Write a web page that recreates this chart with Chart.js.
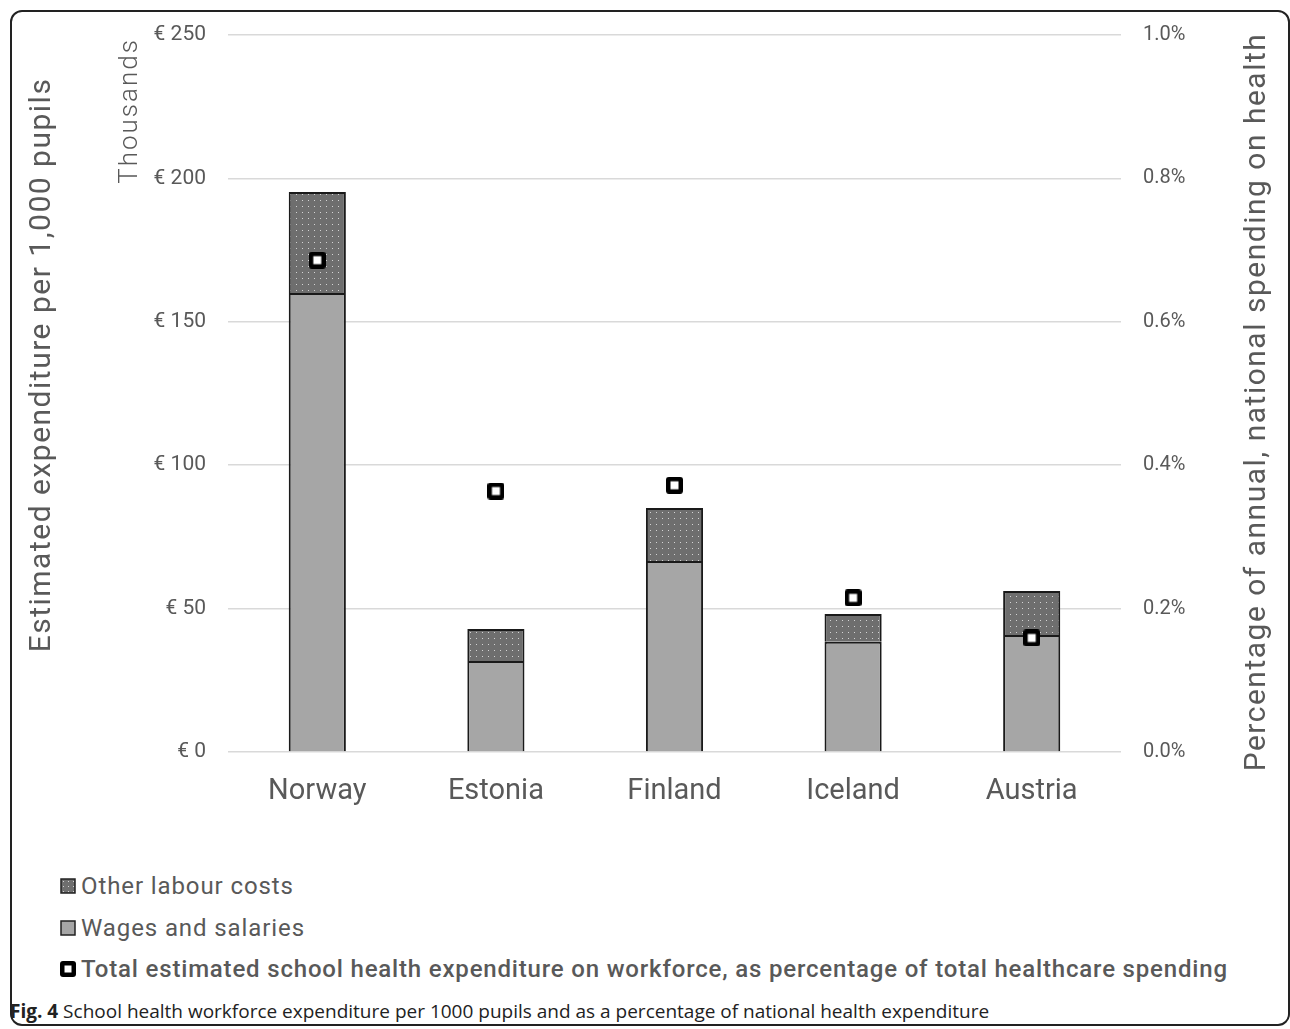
<!DOCTYPE html>
<html lang="en">
<head>
    <meta charset="UTF-8">
    <title>School health workforce expenditure</title>
    <style>
        body {
            margin: 0;
            background: #fff;
            width: 1290px;
            height: 1029px;
            overflow: hidden;
            position: relative;
            font-family: Roboto, "Noto Sans", sans-serif;
        }

        #frame {
            position: absolute;
            left: 10px;
            top: 10px;
            width: 1280px;
            height: 1016px;
            box-sizing: border-box;
            border: 2px solid #222;
            border-radius: 12px;
        }

        #chart-container {
            position: absolute;
            left: 0;
            top: 0;
            width: 1290px;
            height: 840px;
        }

        .legend-item {
            position: absolute;
            left: 60px;
            font-size: 24px;
            letter-spacing: 0.9px;
            color: #595959;
            display: flex;
            align-items: center;
            white-space: nowrap;
        }

        .legend-item canvas {
            margin-right: 5px;
        }

        #caption {
            position: absolute;
            left: 10px;
            top: 998px;
            font-family: "Open Sans", sans-serif;
            font-size: 19px;
            color: #222;
            white-space: nowrap;
        }
    </style>
    <script src="https://cdn.jsdelivr.net/npm/chart.js"></script>
</head>
<body>
    <div id="frame"></div>
    <div id="chart-container">
        <canvas id="expChart"></canvas>
    </div>
    <div class="legend-item" id="leg-other" style="top: 872px;"></div>
    <div class="legend-item" id="leg-wages" style="top: 914px;"></div>
    <div class="legend-item" id="leg-total" style="top: 955px; font-weight: 500; letter-spacing: 0.82px;"></div>
    <div id="caption"><b>Fig. 4</b> School health workforce expenditure per 1000 pupils and as a percentage of national health expenditure</div>
    <script>
        // values, € thousands per 1,000 pupils
        const countries = ['Norway', 'Estonia', 'Finland', 'Iceland', 'Austria'];
        const wages = [160, 31.7, 66.6, 38.4, 40.8];
        const otherCosts = [35.3, 11.2, 18.5, 9.7, 15.3];
        // share of national health spending, in %
        const sharePct = [0.686, 0.364, 0.372, 0.215, 0.159];

        const leftTicks = [0, 50, 100, 150, 200, 250];
        const rightTicks = [0, 0.2, 0.4, 0.6, 0.8, 1.0];

        const legendLabels = [
            'Other labour costs',
            'Wages and salaries',
            'Total estimated school health expenditure on workforce, as percentage of total healthcare spending'
        ];

        const textGrey = '#595959';

        function dotPattern() {
            const c = document.createElement('canvas');
            c.width = 6;
            c.height = 6;
            const g = c.getContext('2d');
            g.fillStyle = '#6e6e6e';
            g.fillRect(0, 0, 6, 6);
            g.fillStyle = '#d4d4d4';
            g.fillRect(2, 2, 1, 1);
            return document.getElementById('expChart').getContext('2d').createPattern(c, 'repeat');
        }

        function markerImage(size) {
            const c = document.createElement('canvas');
            c.width = size;
            c.height = size;
            const g = c.getContext('2d');
            g.fillStyle = '#000';
            g.beginPath();
            g.roundRect(0, 0, size, size, 3);
            g.fill();
            const inner = Math.round(size * 0.45);
            const off = (size - inner) / 2;
            g.fillStyle = '#fff';
            g.fillRect(off, off, inner, inner);
            return c;
        }

        function swatch(kind) {
            const c = document.createElement('canvas');
            c.width = 16;
            c.height = 16;
            const g = c.getContext('2d');
            if (kind === 'total') {
                g.drawImage(markerImage(16), 0, 0);
                return c;
            }
            if (kind === 'other') {
                g.fillStyle = '#6e6e6e';
                g.fillRect(1, 1, 14, 14);
                g.fillStyle = '#d4d4d4';
                for (let x = 3; x < 15; x += 5) {
                    for (let y = 3; y < 15; y += 5) g.fillRect(x, y, 1, 1);
                }
            } else {
                g.fillStyle = '#a6a6a6';
                g.fillRect(1, 1, 14, 14);
            }
            g.strokeStyle = '#222';
            g.lineWidth = 1.5;
            g.strokeRect(1, 1, 14, 14);
            return c;
        }

        function fillLegend(id, kind, text) {
            const el = document.getElementById(id);
            el.appendChild(swatch(kind));
            const span = document.createElement('span');
            span.textContent = text;
            el.appendChild(span);
        }

        fillLegend('leg-other', 'other', legendLabels[0]);
        fillLegend('leg-wages', 'wages', legendLabels[1]);
        fillLegend('leg-total', 'total', legendLabels[2]);

        // axis titles drawn by hand so they sit where the original has them
        function rotatedText(ctx, text, x, y, font, spacing) {
            ctx.save();
            ctx.translate(x, y);
            ctx.rotate(-Math.PI / 2);
            ctx.font = font;
            ctx.letterSpacing = spacing;
            ctx.fillText(text, 0, 0);
            ctx.restore();
        }

        const axisTitles = {
            id: 'axisTitles',
            afterDraw(chart) {
                const ctx = chart.ctx;
                ctx.save();
                ctx.fillStyle = textGrey;
                ctx.textAlign = 'center';
                ctx.textBaseline = 'middle';
                rotatedText(ctx, 'Estimated expenditure per 1,000 pupils', 42, 365, '30px Roboto', '1.5px');
                rotatedText(ctx, 'Thousands', 130, 111, '300 26px Roboto', '2px');
                rotatedText(ctx, 'Percentage of annual, national spending on health', 1257, 402, '30px Roboto', '1.5px');
                ctx.restore();
            }
        };

        const ctx = document.getElementById('expChart').getContext('2d');
        const expChart = new Chart(ctx, {
            type: 'bar',
            data: {
                labels: countries,
                datasets: [
                    {
                        type: 'line',
                        label: legendLabels[2],
                        data: sharePct,
                        yAxisID: 'y1',
                        showLine: false,
                        pointStyle: markerImage(17),
                        order: 0
                    },
                    {
                        label: legendLabels[1],
                        data: wages,
                        backgroundColor: '#a6a6a6',
                        borderColor: '#1a1a1a',
                        borderWidth: 2,
                        stack: 'cost',
                        order: 1
                    },
                    {
                        label: legendLabels[0],
                        data: otherCosts,
                        backgroundColor: dotPattern(),
                        borderColor: '#1a1a1a',
                        borderWidth: 2,
                        stack: 'cost',
                        order: 1
                    }
                ]
            },
            options: {
                responsive: true,
                maintainAspectRatio: false,
                animation: false,
                layout: {
                    padding: { top: 35, bottom: 0, left: 0, right: 0 }
                },
                datasets: {
                    bar: {
                        categoryPercentage: 1,
                        barPercentage: 0.32
                    }
                },
                scales: {
                    x: {
                        stacked: true,
                        grid: { display: false, drawTicks: false },
                        border: { display: false },
                        ticks: {
                            color: textGrey,
                            font: { family: 'Roboto', size: 29 },
                            padding: 22
                        },
                        afterFit(scale) { scale.height = 88; }
                    },
                    y: {
                        stacked: true,
                        position: 'left',
                        min: 0,
                        max: 250,
                        afterBuildTicks(scale) {
                            scale.ticks = leftTicks.map(v => ({ value: v }));
                        },
                        grid: { color: '#d9d9d9', lineWidth: 1.5, drawTicks: false },
                        border: { display: false },
                        ticks: {
                            color: textGrey,
                            font: { family: 'Roboto', size: 21 },
                            padding: 22,
                            callback: v => '€ ' + v
                        },
                        afterFit(scale) { scale.width = 228; }
                    },
                    y1: {
                        position: 'right',
                        min: 0,
                        max: 1.0,
                        afterBuildTicks(scale) {
                            scale.ticks = rightTicks.map(v => ({ value: v }));
                        },
                        grid: { display: false, drawTicks: false },
                        border: { display: false },
                        ticks: {
                            color: textGrey,
                            font: { family: 'Roboto', size: 20 },
                            padding: 22,
                            callback: v => v.toFixed(1) + '%'
                        },
                        afterFit(scale) { scale.width = 169; }
                    }
                },
                plugins: {
                    legend: { display: false },
                    tooltip: { enabled: false }
                }
            },
            plugins: [axisTitles]
        });
    </script>
</body>
</html>
